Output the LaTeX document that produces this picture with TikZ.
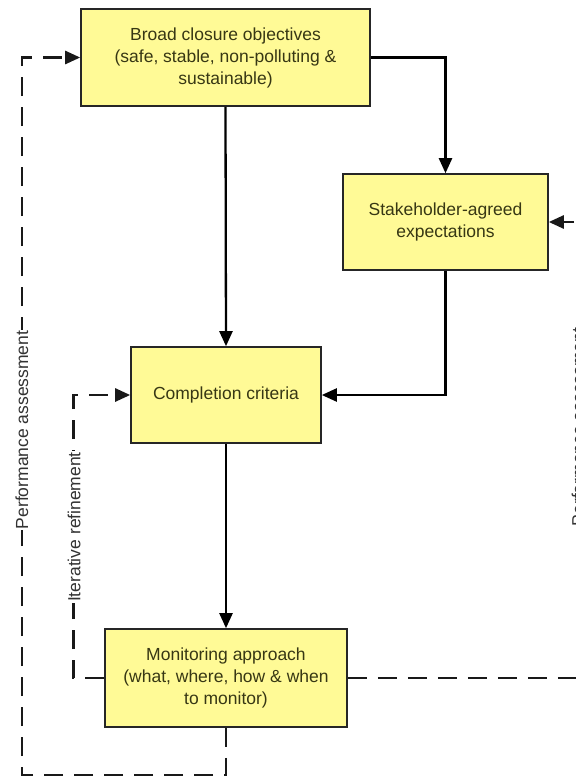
\documentclass[tikz,border=0pt]{standalone}
\usepackage{fontspec}
\setmainfont{Liberation Sans}
\usepackage{tikz}
\usetikzlibrary{calc,shapes,positioning}
\usetikzlibrary{arrows.meta}
\tikzset{>={Triangle[width=13pt,length=15pt]}}
\definecolor{boxfill}{RGB}{255,250,150}
\definecolor{boxtext}{RGB}{55,55,20}

\begin{document}
\begin{tikzpicture}[x=1pt,y=-1pt]
    \useasboundingbox (0,0) rectangle (576,780);
    \clip (0,0) rectangle (576,780);

    \tikzstyle{bnode} = [draw=black!85, fill=boxfill, line width=1.6pt, rectangle, inner sep=0pt, align=center, text=boxtext, font=\fontsize{17.5}{22}\selectfont]
    \tikzstyle{lnode} = [fill=white, inner sep=1pt, rotate=90, text=black!80, font=\fontsize{17.5}{22}\selectfont]
    \tikzstyle{sline} = [line width=2.3pt, black]
    \tikzstyle{dline} = [line width=2.6pt, black!90, dash pattern=on 19pt off 11pt]

    \node[bnode, minimum width=289pt, minimum height=97pt] (broad) at (225.5,57.5) {Broad closure objectives\\(safe, stable, non-polluting \&\\sustainable)};
    \node[bnode, minimum width=205pt, minimum height=96pt] (stake) at (445.5,222) {Stakeholder-agreed\\expectations};
    \node[bnode, minimum width=190pt, minimum height=96pt] (comp) at (226,395) {Completion criteria};
    \node[bnode, minimum width=242pt, minimum height=98pt] (mon) at (226,678) {Monitoring approach\\(what, where, how \& when\\to monitor)};

    \coordinate (pa) at (22,775);
    \coordinate (pb) at (578,678);

    % solid flow
    \draw[sline,->] (broad.south) -- (comp.north);
    \draw[sline,->] (broad.east) -| (stake.north);
    \draw[sline,->] (stake.south) |- (comp.east);
    \draw[sline,->] (comp.south) -- (mon.north);

    % feedback loops
    \draw[dline,->] (mon.west) -- ++(-31,0) |- (comp.west);
    \draw[dline,->] (mon.south) |- (pa) |- (broad.west);
    \draw[dline,->] (mon.east) -- (pb) |- (stake.east);

    \node[lnode] (ir) at (74,527) {Iterative refinement};
    \node[lnode] (pal) at (22,430) {Performance assessment};
    \node[lnode] (par) at (578,427) {Performance assessment};
\end{tikzpicture}
\end{document}
